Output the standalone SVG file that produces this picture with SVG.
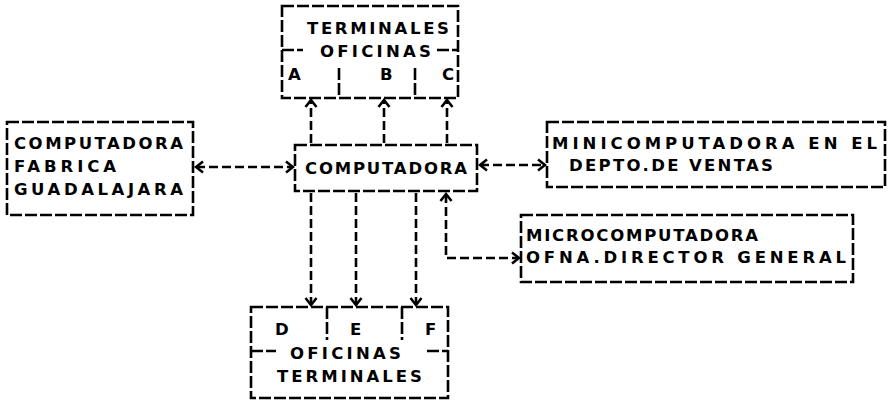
<svg xmlns="http://www.w3.org/2000/svg" width="890" height="400" viewBox="0 0 890 400">
<style>
.b{fill:none;stroke:#000;stroke-width:2.6;stroke-dasharray:12 3}
.c{fill:none;stroke:#000;stroke-width:2.6;stroke-dasharray:9 4}
text{font-family:"DejaVu Sans","Liberation Sans",sans-serif;font-weight:bold;font-size:16.5px;fill:#000}
</style>
<defs>
<marker id="ah" markerUnits="userSpaceOnUse" viewBox="-12 -8 14 16" refX="0" refY="0" markerWidth="14" markerHeight="16" orient="auto-start-reverse">
<path d="M-7,-5.5 L0,0 L-7,5.5" fill="none" stroke="#000" stroke-width="2.6"/>
</marker>
</defs>
<rect width="890" height="400" fill="#fff"/>
<g id="terminales-abc">
<rect class="b" x="282" y="6" width="176" height="92"/>
<line class="b" x1="282" y1="50" x2="303" y2="50"/>
<line class="b" x1="437" y1="50" x2="458" y2="50"/>
<line class="b" x1="339" y1="68" x2="339" y2="98"/>
<line class="b" x1="415" y1="68" x2="415" y2="98"/>
<text x="307" y="34" textLength="142" lengthAdjust="spacing">TERMINALES</text>
<text x="320" y="57" textLength="111" lengthAdjust="spacing">OFICINAS</text>
<text x="288" y="80">A</text>
<text x="380" y="80">B</text>
<text x="442" y="80">C</text>
</g>
<g id="fabrica">
<rect class="b" x="7" y="122" width="186" height="93"/>
<text x="14" y="149" textLength="169" lengthAdjust="spacing">COMPUTADORA</text>
<text x="14" y="172" textLength="102" lengthAdjust="spacing">FABRICA</text>
<text x="14" y="195" textLength="169" lengthAdjust="spacing">GUADALAJARA</text>
</g>
<g id="computadora">
<rect class="b" x="295" y="145" width="182" height="46"/>
<text x="305" y="174" textLength="162" lengthAdjust="spacing">COMPUTADORA</text>
</g>
<g id="minicomputadora">
<rect class="b" x="547" y="122" width="338" height="65"/>
<text x="552" y="149" textLength="325" lengthAdjust="spacing">MINICOMPUTADORA EN EL</text>
<text x="569" y="171" textLength="204" lengthAdjust="spacing">DEPTO.DE VENTAS</text>
</g>
<g id="microcomputadora">
<rect class="b" x="521" y="215" width="332" height="67"/>
<text x="526" y="241" textLength="232" lengthAdjust="spacing">MICROCOMPUTADORA</text>
<text x="526" y="263" textLength="320" lengthAdjust="spacing">OFNA.DIRECTOR GENERAL</text>
</g>
<g id="terminales-def">
<rect class="b" x="251" y="307" width="197" height="91"/>
<line class="b" x1="327" y1="307" x2="327" y2="340"/>
<line class="b" x1="402" y1="307" x2="402" y2="340"/>
<line class="b" x1="251" y1="351" x2="276" y2="351"/>
<line class="b" x1="427" y1="351" x2="448" y2="351"/>
<text x="275" y="335">D</text>
<text x="350" y="335">E</text>
<text x="425" y="335">F</text>
<text x="290" y="359" textLength="111" lengthAdjust="spacing">OFICINAS</text>
<text x="277" y="382" textLength="145" lengthAdjust="spacing">TERMINALES</text>
</g>
<g id="connectors">
<line class="c" x1="311" y1="143" x2="311" y2="100" marker-end="url(#ah)"/>
<line class="c" x1="384" y1="143" x2="384" y2="100" marker-end="url(#ah)"/>
<line class="c" x1="447" y1="143" x2="447" y2="100" marker-end="url(#ah)"/>
<line class="c" x1="196" y1="167" x2="293" y2="167" marker-start="url(#ah)" marker-end="url(#ah)"/>
<line class="c" x1="480" y1="165" x2="545" y2="165" marker-start="url(#ah)" marker-end="url(#ah)"/>
<path class="c" d="M446,194 L446,258 L519,258" marker-start="url(#ah)" marker-end="url(#ah)"/>
<line class="c" x1="311" y1="193" x2="311" y2="305" marker-end="url(#ah)"/>
<line class="c" x1="356" y1="193" x2="356" y2="305" marker-end="url(#ah)"/>
<line class="c" x1="416" y1="193" x2="416" y2="305" marker-end="url(#ah)"/>
</g>
</svg>
